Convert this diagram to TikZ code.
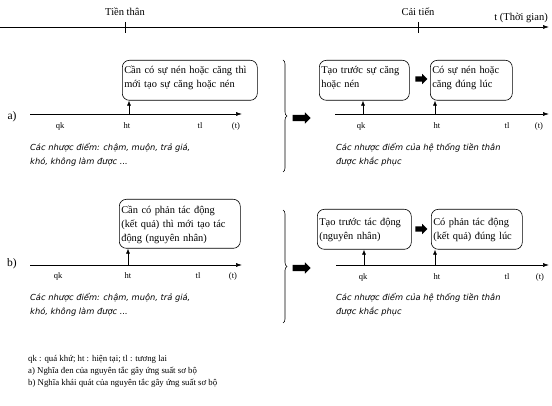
\documentclass[tikz,border=0pt]{standalone}
\usepackage{fontspec}
\setmainfont{Liberation Serif}
\newfontfamily\notefont{DejaVu Sans}
\usetikzlibrary{arrows.meta}
\usetikzlibrary{positioning, shapes.arrows, decorations.pathreplacing}
\tikzset{
    axisarrow/.style={line width=0.6pt, -{Latex[length=6pt,width=4pt]}},
    pinarrow/.style={line width=0.6pt, -{Latex[length=5pt,width=4pt]}},
    ideabox/.style={draw, line width=0.6pt, rounded corners=7pt, align=left, anchor=north west,
        inner xsep=2pt, font=\fontsize{10.4}{14}\selectfont},
    uptext/.style={text height=9pt, text depth=22pt},
    notetext/.style={align=left, anchor=north west, inner sep=0pt,
        font=\notefont\itshape\fontsize{8.3}{14}\selectfont},
    ticklab/.style={inner sep=0pt, font=\fontsize{8.5}{10}\selectfont},
    toplab/.style={inner sep=1pt, font=\fontsize{10.5}{12}\selectfont},
    rowlab/.style={inner sep=0pt, font=\fontsize{11.5}{12}\selectfont},
    bigarrow/.style={single arrow, fill=black, draw=none, inner xsep=0pt, inner ysep=3pt,
        text height=0pt, text depth=0pt, minimum height=18pt, single arrow head extend=2.5pt},
    smallarrow/.style={bigarrow, minimum height=12pt, inner ysep=2.5pt},
    bracestyle/.style={decorate, decoration={brace, amplitude=4pt}, line width=0.6pt}
}

\begin{document}
\begin{tikzpicture}[x=1pt, y=-1pt]
  \useasboundingbox (0,0) rectangle (552,406);

  % Time axis
  \coordinate (tStart) at (0,27);
  \coordinate (tEnd) at (549,27);
  \draw[axisarrow] (tStart) -- (tEnd);
  \foreach \name/\xpos in {tickOld/125, tickNew/418}{
    \draw[line width=0.6pt] (\xpos,22) coordinate (\name) -- (\xpos,33);
  }
  \node[toplab, above=5pt of tickOld] (oldLab) {Tiền thân};
  \node[toplab, above=5pt of tickNew] (newLab) {Cải tiến};
  \node[toplab, anchor=south east] (timeLab) at (549,24) {t (Thời gian)};

  % ---- Row a) ----
  \node[rowlab] (labA) at (12,117) {a)};

  % Left: old system
  \coordinate (axAStart) at (30,114);
  \coordinate (axAEnd) at (242,114);
  \draw[axisarrow] (axAStart) -- (axAEnd);
  \foreach \name/\txt/\xpos in {qkA/qk/60, htA/ht/127, tlA/tl/200, tA/{(t)}/236}{
    \node[ticklab] (\name) at (\xpos,126) {\txt};
  }
  \node[ideabox, uptext, text width=131pt, minimum height=40pt] (needA) at (122,60)
    {Cần có sự nén hoặc căng thì\\mới tạo sự căng hoặc nén};
  \coordinate (pinA) at (129,114);
  \draw[pinarrow] (pinA) -- (pinA |- needA.south);
  \node[notetext] (noteA) at (30,143) {Các nhược điểm: chậm, muộn, trả giá,\\khó, không làm được ...};

  % Brace and transition arrow
  \coordinate (braceATop) at (283,60);
  \coordinate (braceABot) at (283,172);
  \draw[bracestyle] (braceATop) -- (braceABot);
  \node[bigarrow] (goA) at (300,118) {};

  % Right: improved system
  \coordinate (axANewStart) at (335,114);
  \coordinate (axANewEnd) at (549,114);
  \draw[axisarrow] (axANewStart) -- (axANewEnd);
  \foreach \name/\txt/\xpos in {qkAN/qk/361, htAN/ht/437, tlAN/tl/507, tAN/{(t)}/539}{
    \node[ticklab] (\name) at (\xpos,126) {\txt};
  }
  \node[ideabox, uptext, text width=86pt, minimum height=40pt] (earlyA) at (319,60)
    {Tạo trước sự căng\\hoặc nén};
  \node[ideabox, uptext, text width=78pt, minimum height=40pt] (onTimeA) at (430,60)
    {Có sự nén hoặc\\căng đúng lúc};
  \node[smallarrow] (stepA) at (420,79) {};
  \coordinate (pinAEarly) at (363,114);
  \coordinate (pinAOnTime) at (435,114);
  \draw[pinarrow] (pinAEarly) -- (pinAEarly |- earlyA.south);
  \draw[pinarrow] (pinAOnTime) -- (pinAOnTime |- onTimeA.south);
  \node[notetext] (noteANew) at (336,143) {Các nhược điểm của hệ thống tiền thân\\được khắc phục};

  % ---- Row b) ----
  \node[rowlab] (labB) at (12,264) {b)};

  % Left: old system
  \coordinate (axBStart) at (30,265);
  \coordinate (axBEnd) at (242,265);
  \draw[axisarrow] (axBStart) -- (axBEnd);
  \foreach \name/\txt/\xpos in {qkB/qk/58, htB/ht/128, tlB/tl/198, tB/{(t)}/233}{
    \node[ticklab] (\name) at (\xpos,276) {\txt};
  }
  \node[ideabox, text height=9pt, text width=117pt, minimum height=49pt] (needB) at (119,199)
    {Cần có phản tác động\\(kết quả) thì mới tạo tác\\động (nguyên nhân)};
  \coordinate (pinB) at (128,265);
  \draw[pinarrow] (pinB) -- (pinB |- needB.south);
  \node[notetext] (noteB) at (30,293) {Các nhược điểm: chậm, muộn, trả giá,\\khó, không làm được ...};

  % Brace and transition arrow
  \coordinate (braceBTop) at (283,210);
  \coordinate (braceBBot) at (283,323);
  \draw[bracestyle] (braceBTop) -- (braceBBot);
  \node[bigarrow] (goB) at (300,268) {};

  % Right: improved system
  \coordinate (axBNewStart) at (336,265);
  \coordinate (axBNewEnd) at (549,265);
  \draw[axisarrow] (axBNewStart) -- (axBNewEnd);
  \foreach \name/\txt/\xpos in {qkBN/qk/363, htBN/ht/437, tlBN/tl/507, tBN/{(t)}/540}{
    \node[ticklab] (\name) at (\xpos,277) {\txt};
  }
  \node[ideabox, text height=9pt, text width=90pt, minimum height=40pt] (earlyB) at (317,209)
    {Tạo trước tác động\\(nguyên nhân)};
  \node[ideabox, text height=9pt, text width=87pt, minimum height=40pt] (onTimeB) at (431,209)
    {Có phản tác động\\(kết quả) đúng lúc};
  \node[smallarrow] (stepB) at (420,229) {};
  \coordinate (pinBEarly) at (364,265);
  \coordinate (pinBOnTime) at (435,265);
  \draw[pinarrow] (pinBEarly) -- (pinBEarly |- earlyB.south);
  \draw[pinarrow] (pinBOnTime) -- (pinBOnTime |- onTimeB.south);
  \node[notetext] (noteBNew) at (336,293) {Các nhược điểm của hệ thống tiền thân\\được khắc phục};

  % Legend
  \node[align=left, anchor=north west, inner sep=0pt, font=\fontsize{8.8}{12}\selectfont] (legend) at (28,355)
    {qk : quá khứ; ht : hiện tại; tl : tương lai\\
     a) Nghĩa đen của nguyên tắc gây ứng suất sơ bộ\\
     b) Nghĩa khái quát của nguyên tắc gây ứng suất sơ bộ};
\end{tikzpicture}
\end{document}
